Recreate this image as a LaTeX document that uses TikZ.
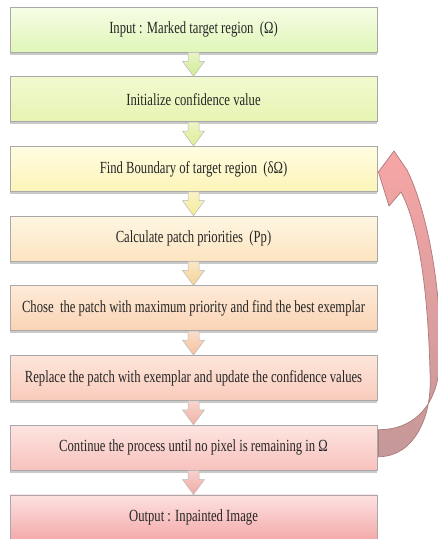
\documentclass[tikz,border=0pt]{standalone}
\usepackage{fontspec}
\setmainfont{Liberation Serif}[FakeStretch=0.745]
\usetikzlibrary{calc,shadows}
\definecolor{bord}{HTML}{A9A9A9}
\definecolor{ca1}{HTML}{F6FDE6}\definecolor{cb1}{HTML}{E0F6B8}
\definecolor{ca2}{HTML}{F1FAD0}\definecolor{cb2}{HTML}{E6F4B2}
\definecolor{ca3}{HTML}{FFFDE2}\definecolor{cb3}{HTML}{FCF4B8}
\definecolor{ca4}{HTML}{FEF6E2}\definecolor{cb4}{HTML}{FCE4C0}
\definecolor{ca5}{HTML}{FEEBD8}\definecolor{cb5}{HTML}{FAD3B4}
\definecolor{ca6}{HTML}{FDE6DA}\definecolor{cb6}{HTML}{F9CBBC}
\definecolor{ca7}{HTML}{FDE4E0}\definecolor{cb7}{HTML}{F8C2BE}
\definecolor{ca8}{HTML}{FDE2E2}\definecolor{cb8}{HTML}{F4A9A9}
\definecolor{ar1}{HTML}{D2EC96}\definecolor{ar2}{HTML}{DDEE94}
\definecolor{ar3}{HTML}{F4EA98}\definecolor{ar4}{HTML}{F6D298}
\definecolor{ar5}{HTML}{F6C29E}\definecolor{ar6}{HTML}{F2B2A4}
\definecolor{ar7}{HTML}{F0AAA4}
\definecolor{loopa}{HTML}{F7A5A5}\definecolor{loopb}{HTML}{C59899}
\definecolor{loopd}{HTML}{B07A7A}
\tikzset{
  stepbox/.style={draw=bord, line width=0.8pt, minimum width=367pt, minimum height=45pt,
    inner sep=0pt, font=\fontsize{17}{20}\selectfont, text=black!85,
    drop shadow={shadow xshift=0pt, shadow yshift=-2.5pt, opacity=0.35, fill=black!60}},
  flowarrow/.style={draw=bord!80, line width=0.5pt}
}
\begin{document}
\begin{tikzpicture}[x=1pt,y=-1pt]
\clip (0,0) rectangle (438,539);
\useasboundingbox (0,0) rectangle (438,539);
\fill[white] (0,0) rectangle (438,539);
\node[stepbox, top color=ca1, bottom color=cb1] (b1) at (193.5,29.5) {Input : Marked target region~ (Ω)};
\node[stepbox, top color=ca2, bottom color=cb2] (b2) at (193.5,99.2) {Initialize confidence value};
\node[stepbox, top color=ca3, bottom color=cb3] (b3) at (193.5,168.9) {Find Boundary of target region~ (δΩ)};
\node[stepbox, top color=ca4, bottom color=cb4] (b4) at (193.5,238.6) {Calculate patch priorities~ (Pp)};
\node[stepbox, top color=ca5, bottom color=cb5] (b5) at (193.5,308.3) {Chose~ the patch with maximum priority and find the best exemplar};
\node[stepbox, top color=ca6, bottom color=cb6] (b6) at (193.5,378.0) {Replace the patch with exemplar and update the confidence values};
\node[stepbox, top color=ca7, bottom color=cb7] (b7) at (193.5,447.7) {Continue the process until no pixel is remaining in Ω};
\node[stepbox, top color=ca8, bottom color=cb8] (b8) at (193.5,517.4) {Output : Inpainted Image};
\foreach \a/\b/\c in {b1/b2/ar1,b2/b3/ar2,b3/b4/ar3,b4/b5/ar4,b5/b6/ar5,b6/b7/ar6,b7/b8/ar7}{
  \path[flowarrow, top color=\c!55!white, bottom color=\c]
    ($(\a.south)+(-5.5,0)$) -- ($(\b.north)+(-5.5,-15)$) -- ($(\b.north)+(-11,-15)$)
    -- (\b.north) -- ($(\b.north)+(11,-15)$) -- ($(\b.north)+(5.5,-15)$)
    -- ($(\a.south)+(5.5,0)$) -- cycle;
}
% loop-back curved arrow
\coordinate (tip) at ($(b3.east)+(1,3)$);
\coordinate (lb) at ($(b7.east)+(1,-18)$);
\coordinate (lc) at ($(b7.east)+(1,9)$);
\path[draw=loopd, line width=0.7pt, top color=loopa, bottom color=loopb]
  (tip) -- (394,151) -- (407,170)
  .. controls (426,208) and (442,285) .. (440,360)
  .. controls (438,410) and (410,430) .. (lb)
  -- (lc)
  .. controls (412,457) and (433,420) .. (430,372)
  .. controls (428,292) and (419,226) .. (401,192)
  -- (389,206) -- cycle;
\end{tikzpicture}
\end{document}
